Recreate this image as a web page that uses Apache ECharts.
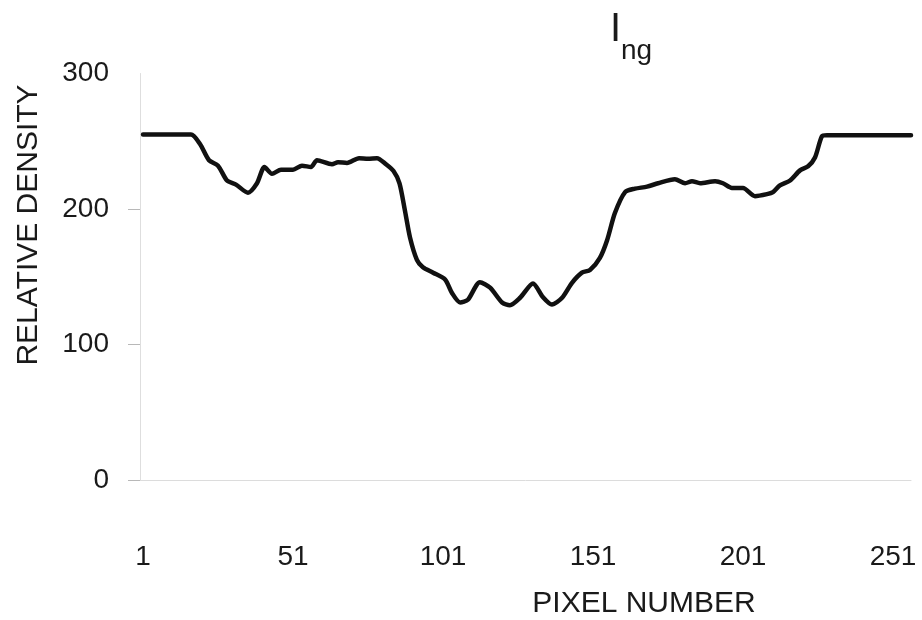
<!DOCTYPE html>
<html>
<head>
<meta charset="utf-8">
<script src="https://cdn.jsdelivr.net/npm/echarts@6/dist/echarts.min.js"></script>
<style>
  html, body { margin: 0; padding: 0; background: #fff; }
  #chart { width: 922px; height: 620px; }
</style>
</head>
<body>
<div id="chart"></div>
<script>
// Densitometer profile: relative density along the scanned line
const pixelNumbers = [
  1, 17, 20, 23, 26, 29, 32, 36, 39, 41.5, 44, 47, 51, 54, 57, 59, 64, 66, 69, 73,
  76, 79, 82, 84.5, 86.5, 88.3, 90, 92.3, 94.3, 97.7, 101.7, 104, 106.7, 109.3, 113.3,
  116.7, 120.7, 123.3, 126.7, 131, 134.3, 137.3, 140.7, 144, 147.3, 150, 153.3, 155.7,
  158.3, 161.7, 165, 169, 172.7, 178.3, 181.7, 184, 186.7, 191.7, 194.3, 197.3, 201,
  205, 209, 211, 213.3, 216.7, 220, 222.7, 225, 227.3, 229, 257
];
const densities = [
  255, 255, 248, 236, 232, 221, 218, 212, 219, 231, 226, 229, 229, 232, 231, 236, 233, 234.5, 234, 237.5,
  237, 237.5, 233, 228, 219, 199, 179, 162.5, 157, 153, 148, 138, 131, 133, 146,
  142, 131, 129, 134.5, 145, 135, 129.5, 134.5, 145.5, 153, 155, 164, 177,
  197, 212.5, 215, 216.5, 219, 222, 219, 220.5, 219, 220.5, 219, 215.5, 215.5,
  209.5, 211, 212.5, 217.5, 221, 228.5, 231.5, 238, 253.7, 254.5, 254.5
];
const xTickLabels = [1, 51, 101, 151, 201, 251];
const yTickLabels = [0, 100, 200, 300];
const yTickMarks = [0, 100, 200];

const FONT = '"Liberation Sans", Arial, sans-serif';

const chart = echarts.init(document.getElementById('chart'));
chart.setOption({
  animation: false,
  backgroundColor: '#ffffff',
  grid: { left: 140, right: 11, top: 73.5, bottom: 140, containLabel: false },
  xAxis: {
    type: 'value',
    min: 0,
    max: 257,
    axisLine: { show: true, lineStyle: { color: '#dcdcdc', width: 1 } },
    axisTick: { show: false },
    splitLine: { show: false },
    axisLabel: {
      customValues: xTickLabels,
      margin: 63,
      color: '#1a1a1a',
      fontFamily: FONT,
      fontSize: 28
    }
  },
  yAxis: {
    type: 'value',
    min: 0,
    max: 300,
    interval: 100,
    axisLine: { show: true, lineStyle: { color: '#dedede', width: 1 } },
    axisTick: {
      show: true,
      length: 12,
      customValues: yTickMarks,
      lineStyle: { color: '#b8b8b8', width: 1 }
    },
    splitLine: { show: false },
    axisLabel: {
      customValues: yTickLabels,
      margin: 31,
      color: '#1a1a1a',
      fontFamily: FONT,
      fontSize: 28
    }
  },
  graphic: [
    {
      type: 'text',
      x: 644, y: 604,
      style: {
        text: 'PIXEL NUMBER', fill: '#1a1a1a', font: '30px ' + FONT,
        align: 'center', verticalAlign: 'middle'
      }
    },
    {
      type: 'text',
      x: 28.5, y: 225,
      rotation: Math.PI / 2,
      style: {
        text: 'RELATIVE DENSITY', fill: '#1a1a1a', font: '30px ' + FONT,
        align: 'center', verticalAlign: 'middle'
      }
    },
    {
      type: 'text',
      x: 610, y: 30,
      style: {
        text: 'I', fill: '#1a1a1a', font: '40px ' + FONT,
        align: 'left', verticalAlign: 'middle'
      }
    },
    {
      type: 'text',
      x: 621, y: 51,
      style: {
        text: 'ng', fill: '#1a1a1a', font: '28px ' + FONT,
        align: 'left', verticalAlign: 'middle'
      }
    }
  ],
  series: [{
    type: 'line',
    data: pixelNumbers.map((p, i) => [p, densities[i]]),
    showSymbol: false,
    smooth: 0.25,
    lineStyle: { color: '#111111', width: 4.5, cap: 'round', join: 'round' }
  }]
});
</script>
</body>
</html>
